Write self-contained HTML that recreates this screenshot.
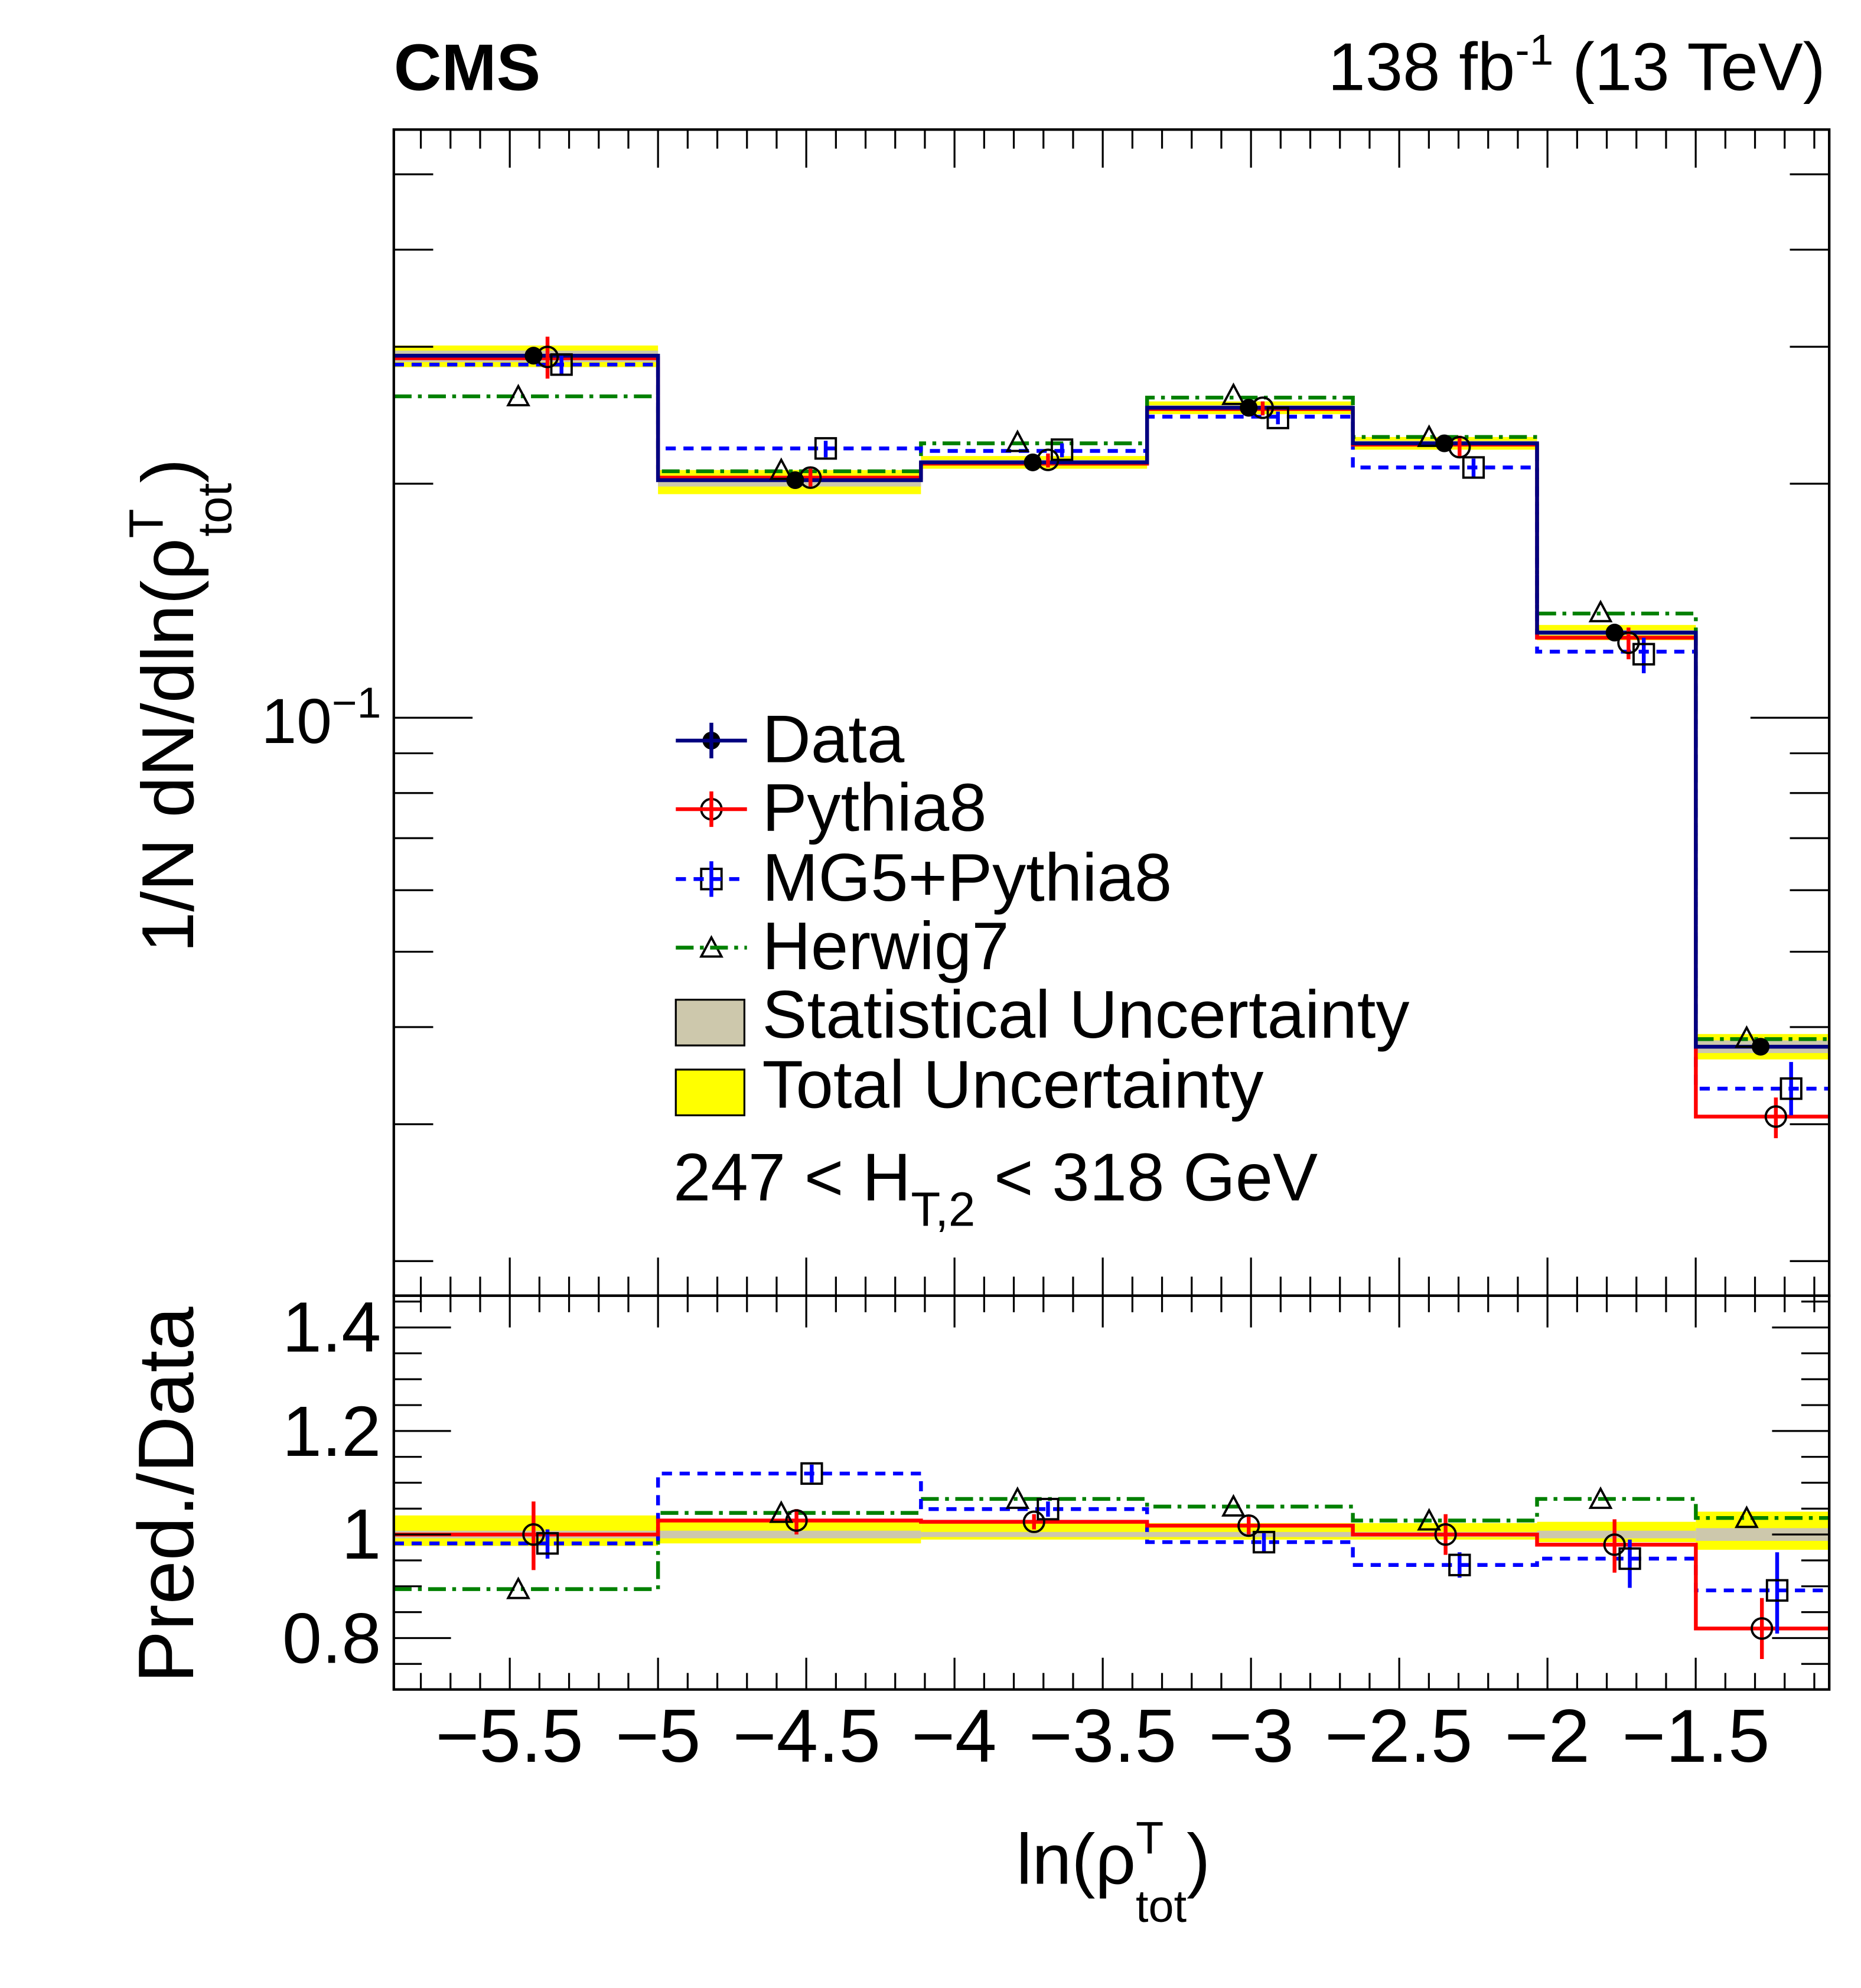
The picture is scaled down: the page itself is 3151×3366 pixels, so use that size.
<!DOCTYPE html>
<html><head><meta charset="utf-8"><style>
html,body{margin:0;padding:0;background:#fff}
svg{display:block}
text{font-family:"Liberation Sans",Arial,sans-serif;fill:#000}
</style></head><body>
<svg id="s" width="3151" height="3366" viewBox="0 0 1465 1565" xmlns="http://www.w3.org/2000/svg">
<rect width="1465" height="1565" fill="#fff"/>
<g id="bands"></g>
<g id="lines" fill="none"></g>
<g id="ticks" stroke="#000" stroke-width="1.5"></g>
<rect x="310" y="102" width="1130" height="918" fill="none" stroke="#000" stroke-width="2"/>
<rect x="310" y="1020" width="1130" height="310" fill="none" stroke="#000" stroke-width="2"/>
<g id="marks"></g>
<text x="310" y="71" font-size="52" font-weight="bold">CMS</text>
<text x="1437" y="71" font-size="53" text-anchor="end">138 fb<tspan dy="-20" font-size="34">-1</tspan><tspan dy="20"> (13 TeV)</tspan></text>
<text x="300" y="585" font-size="50" text-anchor="end">10<tspan dy="-20" font-size="34">−1</tspan></text>
<text x="300" y="1064" font-size="56" text-anchor="end">1.4</text>
<text x="300" y="1146" font-size="56" text-anchor="end">1.2</text>
<text x="300" y="1227" font-size="56" text-anchor="end">1</text>
<text x="300" y="1309" font-size="56" text-anchor="end">0.8</text>
<g font-size="59" text-anchor="middle">
<text x="401" y="1387">−5.5</text><text x="518" y="1387">−5</text><text x="635" y="1387">−4.5</text><text x="751" y="1387">−4</text><text x="868" y="1387">−3.5</text><text x="985" y="1387">−3</text><text x="1101" y="1387">−2.5</text><text x="1218" y="1387">−2</text><text x="1335" y="1387">−1.5</text>
</g>
<text x="800" y="1483" font-size="56">ln(ρ<tspan dy="-24" font-size="36">T</tspan><tspan dx="-22" dy="54" font-size="36">tot</tspan><tspan dy="-30">)</tspan></text>
<text transform="translate(152,750) rotate(-90)" font-size="58">1/N dN/dln(ρ<tspan dy="-24" font-size="38">T</tspan><tspan dx="-22" dy="54" font-size="38">tot</tspan><tspan dy="-30">)</tspan></text>
<text transform="translate(152,1325) rotate(-90)" font-size="62">Pred./Data</text>
<g id="leg"></g>
<g font-size="53">
<text x="600" y="600">Data</text>
<text x="600" y="654">Pythia8</text>
<text x="600" y="709">MG5+Pythia8</text>
<text x="600" y="763">Herwig7</text>
<text x="600" y="817">Statistical Uncertainty</text>
<text x="600" y="872">Total Uncertainty</text>
<text x="530" y="945">247 &lt; H<tspan dy="20" font-size="38">T,2</tspan><tspan dy="-20"> &lt; 318 GeV</tspan></text>
</g>
</svg>
<script>
const NS="http://www.w3.org/2000/svg";
function el(p,t,a){const e=document.createElementNS(NS,t);for(const k in a)e.setAttribute(k,a[k]);document.getElementById(p).appendChild(e);return e;}
const X=v=>518+(v+5)*233.4;
const E=[310,518,725,903,1065,1210,1335,1440];
function step(ys){let d=`M${E[0]},${ys[0]}`;for(let i=0;i<7;i++){d+=` H${E[i+1]}`;if(i<6)d+=` V${ys[i+1]}`;}return d;}
const yT=[[272,289],[370,389],[359,369],[316,326],[344,354],[492,504],[814,834]];
const yS=[[276,285],[375,383],[362,366],[319,323],[347,351],[496,500],[819,829]];
const rT=[[1193,1217],[1196,1215],[1199,1212],[1199,1212],[1199,1212],[1198,1214],[1190,1220]];
const rS=[[1205,1211],[1205,1211],[1206,1210],[1206,1210],[1206,1210],[1205,1211],[1203,1213]];
for(let i=0;i<7;i++){
 el('bands','rect',{x:E[i],y:yT[i][0],width:E[i+1]-E[i],height:yT[i][1]-yT[i][0],fill:'#ffff00'});
 el('bands','rect',{x:E[i],y:yS[i][0],width:E[i+1]-E[i],height:yS[i][1]-yS[i][0],fill:'#cdc8ac'});
 el('bands','rect',{x:E[i],y:rT[i][0],width:E[i+1]-E[i],height:rT[i][1]-rT[i][0],fill:'#ffff00'});
 el('bands','rect',{x:E[i],y:rS[i][0],width:E[i+1]-E[i],height:rS[i][1]-rS[i][0],fill:'#cdc8ac'});
}
const S={
 data:{c:'#000080',d:'',top:[280,378,364,321,349,498,824]},
 py:{c:'#ff0000',d:'',top:[282,376,365,322,350,502,879],r:[1208,1197,1198,1201,1208,1216,1282]},
 mg:{c:'#0000ff',d:'8,6',top:[287,353,355,328,368,513,857],r:[1215,1160,1188,1214,1232,1227,1252]},
 hw:{c:'#008000',d:'14,5,3,5',top:[312,371,349,313,344,483,818],r:[1251,1191,1180,1186,1197,1180,1195]}
};
for(const k of ['hw','mg','py','data']){const s=S[k];
 el('lines','path',{d:step(s.top),stroke:s.c,'stroke-width':3,'stroke-dasharray':s.d});
 if(s.r)el('lines','path',{d:step(s.r),stroke:s.c,'stroke-width':3,'stroke-dasharray':s.d});}
const mx={data:[420,626,813,983,1137,1271,1386],py:[431,638,825,994,1149,1282,1398],mg:[442,650,836,1006,1160,1294,1410],hw:[408,615,801,971,1125,1260,1375]};
const my={py:[281,376,362,321,352,506,879],mg:[287,353,354,329,368,515,857],hw:[312,370,348,311,344,482,817]};
const err={py:[[265,298],[369,383],[357,368],[316,327],[343,360],[494,519],[864,896]],mg:[[280,295],[347,360],[349,360],[324,334],[361,376],[502,530],[836,878]]};
const rerr={py:[[1182,1236],[1188,1208],[1192,1204],[1194,1208],[1192,1224],[1196,1238],[1258,1306]],mg:[[1204,1227],[1153,1167],[1182,1194],[1207,1222],[1222,1242],[1212,1250],[1222,1286]]};
function mark(t,x,y){
 if(t=='data')el('marks','circle',{cx:x,cy:y,r:7,fill:'#000'});
 if(t=='py')el('marks','circle',{cx:x,cy:y,r:8,fill:'none',stroke:'#000','stroke-width':1.8});
 if(t=='mg')el('marks','rect',{x:x-8,y:y-8,width:16,height:16,fill:'none',stroke:'#000','stroke-width':1.8});
 if(t=='hw')el('marks','path',{d:`M${x-8},${y+7} L${x},${y-8} L${x+8},${y+7} Z`,fill:'none',stroke:'#000','stroke-width':1.8});
}
for(let i=0;i<7;i++){
 for(const t of ['py','mg']){
  el('marks','line',{x1:mx[t][i],x2:mx[t][i],y1:err[t][i][0],y2:err[t][i][1],stroke:S[t].c,'stroke-width':3});
  el('marks','line',{x1:mx[t][i]-11,x2:mx[t][i]-11,y1:rerr[t][i][0],y2:rerr[t][i][1],stroke:S[t].c,'stroke-width':3});
 }
 el('marks','line',{x1:mx.data[i],x2:mx.data[i],y1:S.data.top[i]-6,y2:S.data.top[i]+6,stroke:'#000080','stroke-width':3});
 mark('data',mx.data[i],S.data.top[i]);
 mark('py',mx.py[i],my.py[i]);mark('mg',mx.mg[i],my.mg[i]);mark('hw',mx.hw[i],my.hw[i]);
 mark('py',mx.py[i]-11,S.py.r[i]);mark('mg',mx.mg[i]-11,S.mg.r[i]);mark('hw',mx.hw[i],S.hw.r[i]);
}
for(let v=-5.8;v<=-1.09;v+=0.1){const x=X(v);const maj=Math.abs(v*2-Math.round(v*2))<0.01;
 const L=maj?30:15;
 el('ticks','line',{x1:x,x2:x,y1:102,y2:102+L});el('ticks','line',{x1:x,x2:x,y1:1020,y2:1020-L});
 const L2=maj?25:13;
 el('ticks','line',{x1:x,x2:x,y1:1020,y2:1020+L2});el('ticks','line',{x1:x,x2:x,y1:1330,y2:1330-L2});}
const Y=v=>565-612*Math.log10(v/0.1);
[0.02,0.03,0.04,0.05,0.06,0.07,0.08,0.09,0.1,0.2,0.3,0.4,0.5].forEach(v=>{const y=Y(v);const L=Math.abs(v-0.1)<1e-9?62:31;
 el('ticks','line',{x1:310,x2:310+L,y1:y,y2:y});el('ticks','line',{x1:1440,x2:1440-L,y1:y,y2:y});});
for(let v=0.75;v<=1.46;v+=0.05){const y=1208-(v-1)*407.5;const maj=Math.abs(v*5-Math.round(v*5))<0.01;const L=maj?45:22;
 el('ticks','line',{x1:310,x2:310+L,y1:y,y2:y});el('ticks','line',{x1:1440,x2:1440-L,y1:y,y2:y});}
const ly=[583,637,692,746];['data','py','mg','hw'].forEach((t,i)=>{
 el('leg','line',{x1:532,x2:588,y1:ly[i],y2:ly[i],stroke:S[t].c,'stroke-width':3,'stroke-dasharray':S[t].d});
 if(t!='hw')el('leg','line',{x1:560,x2:560,y1:ly[i]-14,y2:ly[i]+14,stroke:S[t].c,'stroke-width':3});
 mark(t,560,ly[i]);});
el('leg','rect',{x:532,y:787,width:54,height:36,fill:'#cdc8ac',stroke:'#000','stroke-width':1.5});
el('leg','rect',{x:532,y:842,width:54,height:36,fill:'#ffff00',stroke:'#000','stroke-width':1.5});
</script>
</body></html>
